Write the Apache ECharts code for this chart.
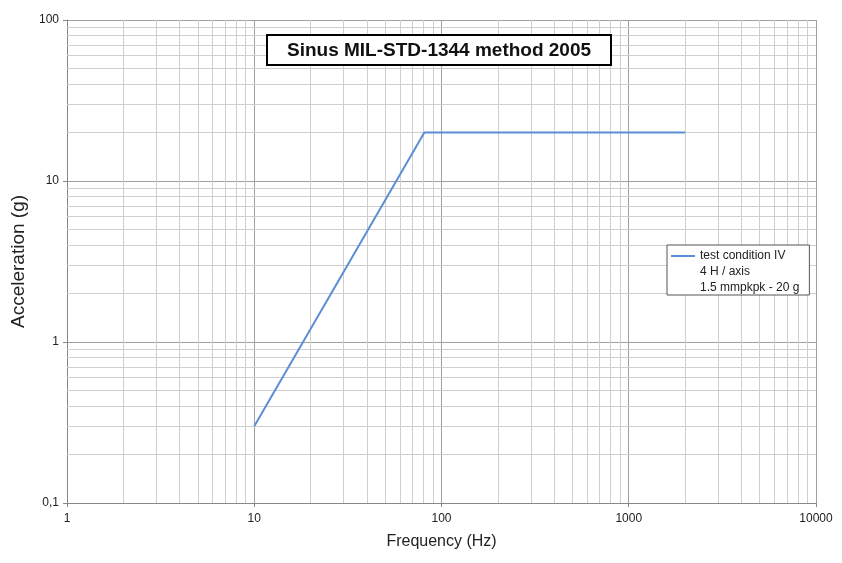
<!DOCTYPE html>
<html><head><meta charset="utf-8">
<script src="https://cdn.jsdelivr.net/npm/echarts@6/dist/echarts.min.js"></script>
<style>html,body{margin:0;padding:0;background:#fff}#c{width:842px;height:563px}</style>
</head><body><div id="c"></div>
<script>
const frequency = [10, 81, 2000];
const acceleration = [0.3, 20, 20];
const xTicks = [1, 10, 100, 1000, 10000];
const yTicks = [0.1, 1, 10, 100];
const seriesName = 'test condition IV';
const legendExtra = ['4 H / axis', '1.5 mmpkpk - 20 g'];
const titleText = 'Sinus MIL-STD-1344 method 2005';

const minorMult = [2, 3, 4, 5, 6, 7, 8, 9];
const minorX = [], minorY = [];
xTicks.slice(0, -1).forEach(d => minorMult.forEach(m => minorX.push(+(d * m).toPrecision(6))));
yTicks.slice(0, -1).forEach(d => minorMult.forEach(m => minorY.push(+(d * m).toPrecision(6))));

const chart = echarts.init(document.getElementById('c'));
const font = 'Liberation Sans, Arial, sans-serif';
chart.setOption({
  animation: false,
  textStyle: { fontFamily: font },
  grid: { left: 67, right: 26, top: 20, bottom: 60 },
  title: {
    text: titleText,
    left: 267, top: 35, z: 20,
    padding: [6, 20, 5, 20],
    borderColor: '#000', borderWidth: 2,
    backgroundColor: '#fff',
    textStyle: { fontFamily: font, fontSize: 19, fontWeight: 'bold', color: '#111' }
  },
  legend: {
    data: [seriesName],
    left: 667, top: 245, z: 20,
    orient: 'vertical',
    padding: [5, 24, 33, 4],
    borderColor: '#555', borderWidth: 1,
    backgroundColor: '#fff',
    itemWidth: 24, itemHeight: 10, itemGap: 4,
    icon: 'path://M0,4 L24,4 L24,6 L0,6 Z',
    textStyle: { fontFamily: font, fontSize: 12, color: '#222' }
  },
  graphic: [
    { type: 'text', left: 700, top: 264, z: 30,
      style: { text: legendExtra.join('\n'), fontFamily: font, fontSize: 12, fill: '#222', lineHeight: 16 } }
  ],
  xAxis: {
    type: 'log', logBase: 10, min: 1, max: 10000,
    name: 'Frequency (Hz)', nameLocation: 'middle', nameGap: 31,
    nameTextStyle: { fontFamily: font, fontSize: 16, color: '#222' },
    axisLine: { show: true, lineStyle: { color: '#888', width: 1 } },
    axisTick: { show: true, length: 4, lineStyle: { color: '#888' } },
    axisLabel: { fontFamily: font, fontSize: 12, color: '#222', margin: 10, formatter: v => String(v) },
    splitLine: { show: true, lineStyle: { color: '#a0a0a0', width: 1 } }
  },
  yAxis: {
    type: 'log', logBase: 10, min: 0.1, max: 100,
    name: 'Acceleration (g)', nameLocation: 'middle', nameGap: 36,
    nameTextStyle: { fontFamily: font, fontSize: 19, color: '#222' },
    axisLine: { show: true, lineStyle: { color: '#888', width: 1 } },
    axisTick: { show: true, length: 4, lineStyle: { color: '#888' } },
    axisLabel: { fontFamily: font, fontSize: 12, color: '#222', margin: 8, formatter: v => String(+v.toPrecision(6)).replace('.', ',') },
    splitLine: { show: true, lineStyle: { color: '#a0a0a0', width: 1 } }
  },
  series: [
    {
      name: 'grid-minor', type: 'line', data: [], silent: true, z: 1,
      markLine: {
        silent: true, symbol: ['none', 'none'], label: { show: false },
        lineStyle: { color: '#cfcfcf', width: 1, type: 'solid' },
        emphasis: { disabled: true },
        data: minorX.map(v => ({ xAxis: v })).concat(minorY.map(v => ({ yAxis: v })))
      }
    },
    {
      name: seriesName, type: 'line', z: 5,
      data: frequency.map((f, i) => [f, acceleration[i]]),
      showSymbol: false, symbol: 'none',
      lineStyle: { color: '#5b8fd3', width: 2 },
      itemStyle: { color: '#5b8fd3' }
    }
  ]
});
</script></body></html>
